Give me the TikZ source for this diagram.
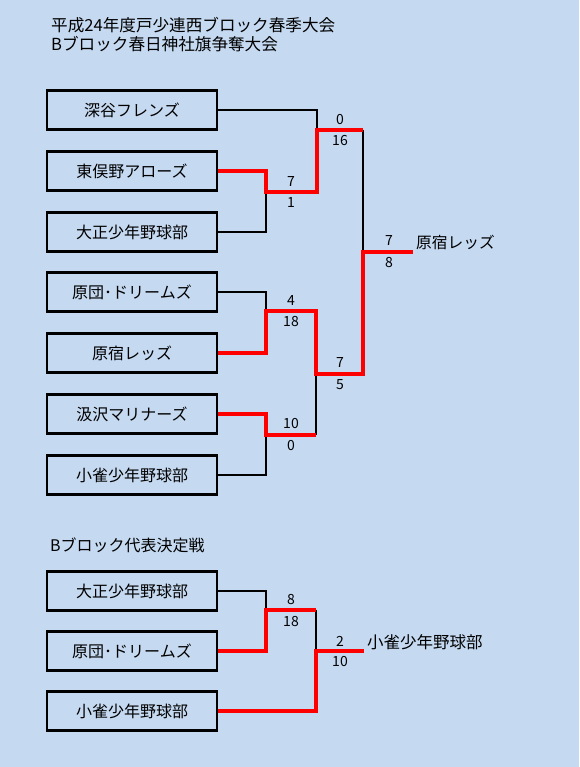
\documentclass[tikz,border=0pt]{standalone}
\usepackage{fontspec}
\setmainfont{Noto Sans CJK JP}
\usepackage{xcolor}
\definecolor{sheetblue}{RGB}{197,217,241}
\usepackage{tikz}

\begin{document}
\begin{tikzpicture}[x=1pt, y=-1pt,
    team/.style={draw, line width=2.3pt, minimum width=170pt, minimum height=39pt,
      inner sep=0pt, font=\fontsize{16}{18}\selectfont},
    loseline/.style={line width=1.6pt},
    winline/.style={draw=red, line width=4.6pt},
    score/.style={font=\fontsize{14}{16}\selectfont, inner sep=0pt},
    heading/.style={anchor=west, inner sep=0pt},
  ]
    \fill[sheetblue] (0,0) rectangle (579,767);
    \useasboundingbox (0,0) rectangle (579,767);

    % Titles
    \node[heading, font=\fontsize{16.6}{20}\selectfont] (title1) at (51,25) {平成24年度戸少連西ブロック春季大会};
    \node[heading, font=\fontsize{16.6}{20}\selectfont] (title2) at (51,44) {Bブロック春日神社旗争奪大会};

    % Teams (main bracket)
    \node[team] (b1) at (132,110) {深谷フレンズ};
    \node[team] (b2) at (132,171) {東俣野アローズ};
    \node[team] (b3) at (132,232) {大正少年野球部};
    \node[team] (b4) at (132,292) {原団･ドリームズ};
    \node[team] (b5) at (132,353) {原宿レッズ};
    \node[team] (b6) at (132,414) {汲沢マリナーズ};
    \node[team] (b7) at (132,475) {小雀少年野球部};

    % Match bars
    \coordinate (Al) at (266,192); \coordinate (Ar) at (317,192);
    \coordinate (Bl) at (317,130); \coordinate (Br) at (363,130);
    \coordinate (Cl) at (266,311); \coordinate (Cr) at (316,311);
    \coordinate (Dl) at (266,435); \coordinate (Dr) at (316,435);
    \coordinate (El) at (316,374); \coordinate (Er) at (363,374);
    \coordinate (Fl) at (363,252); \coordinate (Fr) at (413,252);

    % Losers
    \draw[loseline] (b1.east) -| (Bl);
    \draw[loseline] (b3.east) -| (Al);
    \draw[loseline] (Br) -- (Fl);
    \draw[loseline] (b4.east) -| (Cl);
    \draw[loseline] (b7.east) -| (Dl);
    \draw[loseline] (Dr) -- (El);

    % Winners
    \draw[winline] (b2.east) -| (Al) -- (Ar) |- (Br);
    \draw[winline] (b5.east) -| (Cl) -- (Cr) |- (Er) -- (Fl) -- (Fr);
    \draw[winline] (b6.east) -| (Dl) -- (Dr);

    % Scores
    \node[score] (sA1) at (291,182) {7};
    \node[score] (sA2) at (291,203) {1};
    \node[score] (sB1) at (340,120) {0};
    \node[score] (sB2) at (340,141) {16};
    \node[score] (sC1) at (291,301) {4};
    \node[score] (sC2) at (291,322) {18};
    \node[score] (sD1) at (291,424) {10};
    \node[score] (sD2) at (291,446) {0};
    \node[score] (sE1) at (340,363) {7};
    \node[score] (sE2) at (340,385) {5};
    \node[score] (sF1) at (389,241) {7};
    \node[score] (sF2) at (389,263) {8};
    \node[heading, font=\fontsize{15.7}{18}\selectfont] (champ) at (416,242) {原宿レッズ};

    % Representative match
    \node[heading, font=\fontsize{16}{18}\selectfont] (title3) at (50,545) {Bブロック代表決定戦};
    \node[team] (c1) at (132,591) {大正少年野球部};
    \node[team] (c2) at (132,651) {原団･ドリームズ};
    \node[team] (c3) at (132,711) {小雀少年野球部};
    \coordinate (Gl) at (266,610); \coordinate (Gr) at (316,610);
    \coordinate (Hl) at (316,651); \coordinate (Hr) at (364,651);
    \draw[loseline] (c1.east) -| (Gl);
    \draw[loseline] (Gr) -- (Hl);
    \draw[winline] (c2.east) -| (Gl) -- (Gr);
    \draw[winline] (c3.east) -| (Hl) -- (Hr);
    \node[score] (sG1) at (291,600) {8};
    \node[score] (sG2) at (291,622) {18};
    \node[score] (sH1) at (340,641) {2};
    \node[score] (sH2) at (340,662) {10};
    \node[heading, font=\fontsize{16.5}{18}\selectfont] (rep) at (367,642) {小雀少年野球部};
  \end{tikzpicture}
\end{document}
